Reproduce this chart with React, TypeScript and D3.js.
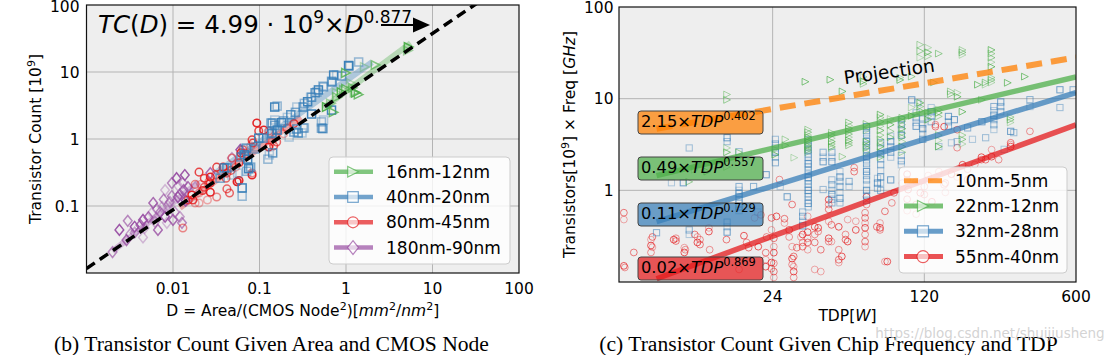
import React from 'react';
import * as d3 from 'd3';

type P = [number, number];
type Col = [number, number[]];

// ---------- Left chart (b) data: [D, transistor count (1e9)] ----------
const leftGreen: P[] = [[0.6,3.0],[0.67,3.4],[0.72,2.5],[0.78,4.9],[0.79,4.2],[0.89,5.0],[0.95,5.4],[1.0,9.7],[1.15,6.8],[1.2,5.8],[1.3,4.9],[1.26,5.0],[1.4,4.6],[1.65,11.9],[2.2,12.7],[5.3,23.6],[5.2,21],[1.0,5.6]];
const leftBlue: P[] = [[1.07,12.5],[1.4,14.1],[1.08,12.3],[0.78,9.0],[0.89,8.7],[0.72,9.0],[0.68,7.3],[0.69,7.1],[0.54,6.2],[0.55,6.0],[0.48,5.4],[0.46,5.0],[0.44,4.9],[0.39,4.2],[0.40,4.2],[0.36,3.6],[0.33,3.4],[0.32,3.0],[0.27,3.0],[0.26,2.5],[0.15,3.0],[0.16,3.1],[0.23,2.3],[0.21,2.1],[0.19,1.86],[0.18,1.75],[0.33,1.46],[0.27,1.41],[0.31,1.23],[0.25,1.27],[0.40,2.36],[0.52,1.8],[0.54,1.43],[0.55,1.92],[0.52,1.45],[0.68,2.7],[0.32,1.46],[0.28,1.23],[0.22,1.07],[0.15,1.6],[0.16,1.36],[0.14,1.2],[0.14,1.73],[0.13,1.19],[0.11,1.03],[0.098,1.03],[0.091,0.76],[0.07,0.73],[0.066,0.69],[0.061,0.54],[0.073,0.5],[0.125,0.5],[0.142,0.62],[0.13,0.58],[0.079,0.38],[0.075,0.36],[0.071,0.33],[0.042,0.37],[0.048,0.29],[0.035,0.26],[0.063,0.186],[0.063,0.14],[0.039,0.37],[0.056,0.31],[0.088,0.71],[0.067,0.58],[0.135,1.73],[0.139,1.23],[0.15,1.92]];
const leftRed: P[] = [[0.112,1.36],[0.128,1.32],[0.098,1.32],[0.139,0.91],[0.146,0.79],[0.128,0.76],[0.154,1.07],[0.082,0.97],[0.079,0.79],[0.064,0.69],[0.061,0.62],[0.048,0.52],[0.058,0.44],[0.053,0.38],[0.047,0.34],[0.082,0.29],[0.056,0.23],[0.032,0.38],[0.036,0.31],[0.041,0.26],[0.027,0.27],[0.026,0.23],[0.02,0.32],[0.021,0.21],[0.023,0.19],[0.027,0.16],[0.032,0.136],[0.017,0.123],[0.02,0.111],[0.042,0.18],[0.093,1.73],[0.018,0.21],[0.022,0.17],[0.018,0.111],[0.015,0.123],[0.0165,0.146],[0.013,0.047],[0.027,0.22],[0.025,0.123],[0.042,0.31],[0.055,0.23],[0.082,0.31],[0.084,0.87],[0.131,0.81],[0.158,0.9],[0.038,0.38],[0.031,0.29],[0.023,0.26],[0.02,0.156],[0.045,0.156],[0.058,0.24],[0.207,1.46],[0.25,1.7],[0.19,1.2],[0.07,0.6]];
const leftPurple: P[] = [[0.0137,0.29],[0.013,0.22],[0.0133,0.173],[0.0081,0.173],[0.0097,0.141],[0.0114,0.136],[0.0092,0.115],[0.0059,0.111],[0.0057,0.079],[0.0071,0.081],[0.0081,0.069],[0.0105,0.081],[0.01,0.062],[0.0085,0.056],[0.0127,0.056],[0.0045,0.062],[0.0062,0.058],[0.0067,0.044],[0.0047,0.047],[0.003,0.06],[0.0024,0.044],[0.0036,0.04],[0.0029,0.031],[0.0045,0.034],[0.002,0.0205],[0.0036,0.049],[0.012,0.069],[0.0149,0.192],[0.0075,0.097],[0.0097,0.22],[0.011,0.26],[0.0065,0.09],[0.0052,0.068],[0.0088,0.1],[0.012,0.15],[0.014,0.12],[0.0032,0.038],[0.0042,0.052],[0.0115,0.2],[0.0078,0.125],[0.06,0.69],[0.048,0.52],[0.027,0.31],[0.018,0.19]];
const leftGreenFit: P[] = [[0.55,2.9],[5.6,27]];
const leftBlueFit: P[] = [[0.03,0.3],[2,14]];
const leftRedFit: P[] = [[0.012,0.094],[0.3,2.13]];
const leftPurpleFit: P[] = [[0.002,0.021],[0.02,0.23]];
const leftLaw = [4.99, 0.877];
const leftXTicks = [0.01, 0.1, 1, 10, 100];
const leftXTickLabels = ['0.01', '0.1', '1', '10', '100'];
const leftYTicks = [0.1, 1, 10, 100];
const leftYTickLabels = ['0.1', '1', '10', '100'];
const leftLegend = ['16nm-12nm', '40nm-20nm', '80nm-45nm', '180nm-90nm'];

// ---------- Right chart (c) data: [TDP, values (transistors x freq)] ----------
const rightGreen: Col[] = [[9.9,[1.24]],[10.5,[1.68]],[12,[1.6]],[14.8,[11.1,9.7,2.9,2.6,1.8]],[16.8,[2.6]],[24.7,[2.8,2.45]],[27.5,[3.6,3.1]],[30.2,[2.27]],[34,[15.3]],[35,[4.6,4.3,4.0,3.8,3.6,3.4,3.2,3.05,2.9,2.75,2.6]],[44.3,[16.1]],[45,[4.25,4.0,3.7,3.4,3.2,3.0,2.9]],[50.4,[12.0,2.33]],[54,[5.5,5.1,4.7,4.4,4.1,3.8,3.5,3.3,3.1]],[63,[17.3,15.5,14.5]],[65,[5.3,4.5,3.4,3.1,2.9,2.6]],[75.5,[6.7,6.2,5.6,5.0,4.5,4.0,3.6,3.3,3.0,2.6,2.3]],[84,[6.0,5.2,4.4,3.8]],[93,[17,16]],[95,[6.2,5.7,5.2,4.7,4.2,3.8,3.4,3.0,2.6]],[105,[17.4,8.0,6.5]],[115,[38.8,33,28,9.0,8.2,7.4]],[125,[36,32,29,7.0,6.4,5.9]],[133,[15]],[140,[31,7.6,7.0,6.4,4.0,3.5,3.0]],[159,[12,11.2]],[171,[11.6,10.5]],[180,[34,32,30,7.2,4.0,3.6,3.2]],[212,[14.2]],[221,[9.7]],[230,[15,14.2]],[245,[34,31,28,25,22.3,17,16,15]],[291,[14.9]],[300,[6.3,5.9,5.5]],[349,[17.4]]];
const rightBlue: Col[] = [[7,[0.345]],[8.2,[1.21]],[9.3,[1.21]],[9.9,[2.9,0.37,0.33]],[14.8,[3.75,3.4,0.45,0.4,0.35]],[16.8,[2.64,1.1,1.0,0.92,0.85,0.78,0.72,0.66,0.6]],[19.6,[1.1]],[20.5,[0.58]],[22.4,[1.48]],[24.7,[3.6,3.2,2.9,2.6,2.3,2.0]],[26,[1.1]],[28,[0.85]],[33,[0.58,0.52,0.46,0.41]],[35,[3.57,3.3,3.0,2.75,2.5,2.3,2.1,1.95,1.8,1.65,1.5,1.38,1.27,1.17,1.08,1.0,0.92,0.85,0.78,0.72,0.66]],[41,[2.6,2.3,2.05,1.02]],[45,[2.6,2.3,2.05,1.3,1.15,1.0,0.9,0.8,0.73]],[49,[1.6,1.4,1.25,1.1,0.95,0.82,0.73]],[54,[1.25,1.1]],[65,[4.96,4.5,4.1,3.7,3.4,3.1,2.8,2.6,2.35,2.15,1.95,1.75,1.6,1.45,1.3,1.15,1.0,0.88,0.78]],[73,[1.35,1.2,1.05]],[75.5,[3.3,2.9,2.5,2.2,1.9,1.65,1.4,1.2,1.0]],[84,[3.9,3.4,3.0,2.6,2.3,1.3]],[94,[5.9,5.2,4.6,4.0,2.4,2.1,1.9]],[105,[9.7]],[110,[7.0,6.2,5.5,5.0]],[112,[9.0]],[118,[6.0,5.3,4.7,4.1,3.6]],[129,[8.0,7.2,6.4,5.6]],[140,[3.0]],[155,[6.4,5.6,5.0]],[160,[3.3]],[165,[5.9]],[170,[3.4]],[190,[4.8]],[200,[3.6]],[221,[5.6]],[230,[3.75]],[251,[8.2,7.4,6.6,5.9,5.2,4.6]],[270,[9.2,8.2,7.2]],[280,[2.8]],[300,[4.4]],[310,[4.26]],[368,[9.75,8.2]],[506,[12.5,8.0]],[582,[12.5]]];
const rightRed: Col[] = [[4.95,[0.57,0.48,0.15]],[5.0,[0.144]],[5.5,[0.21]],[6.6,[0.29,0.25,0.21]],[6.7,[0.31,0.24]],[8.4,[0.29]],[8.6,[0.30,0.28]],[9.4,[0.237,0.21]],[9.5,[0.225]],[10.5,[0.33]],[10.8,[0.31,0.27]],[11.1,[0.29,0.256]],[12.2,[0.39,0.355]],[12.3,[0.225]],[14.7,[0.29]],[16.8,[0.137]],[17.7,[0.32]],[18.2,[0.27]],[18.6,[0.237]],[19.8,[0.5]],[20.6,[0.243]],[21.2,[0.54]],[22.3,[0.209,0.175,0.147]],[22.5,[0.31]],[23.7,[0.5,0.37,0.163,0.14]],[24.3,[0.3,0.243,0.209,0.16,0.13,0.112]],[25,[0.52]],[25.8,[1.31]],[27.2,[0.49,0.44]],[28.6,[0.37,0.31]],[29.5,[0.7,0.243,0.18,0.155]],[30,[0.19,0.147,0.13,0.112]],[31,[0.237]],[32.4,[0.31]],[33,[0.33,0.27,0.243]],[34.8,[0.52,0.35,0.3,0.27,0.225]],[37.5,[0.4,0.33,0.27,0.137]],[38.9,[0.39,0.355]],[40,[0.225,0.13]],[43.5,[0.79,0.7,0.62,0.46,0.3,0.276]],[44.8,[0.42,0.276]],[48.4,[0.4,0.225,0.175,0.163]],[50,[0.19]],[52,[0.33,0.29]],[53.2,[0.48,0.276]],[57,[1.77,1.6]],[58,[0.46,0.37]],[64,[0.57,0.5,0.44,0.39,0.33,0.276,0.243]],[65,[0.85,0.7]],[72.5,[0.4]],[75,[0.44,0.39,0.37]],[79,[0.59,0.167]],[81,[0.167]],[85,[0.73]],[87,[0.94]],[95,[1.2]],[100,[1.5,1.3,0.8,0.6]],[101,[1.02]],[110,[1.25,0.7,0.55]],[115,[0.94]],[120,[1.1,0.9]],[125,[1.45]],[130,[0.75]],[135,[5.2,4.95]],[140,[1.6]],[148,[4.95,1.15]],[150,[1.2,0.95]],[160,[1.5]],[170,[2.92,4.59,1.4]],[180,[1.9]],[190,[1.7,1.31]],[205,[1.91]],[220,[2.3,2.16]],[230,[2.16]],[245,[2.78,2.33]],[264,[2.16]],[300,[3.3,3.15,3.0]],[368,[4.4]]];
const rightCoef = [2.15, 0.49, 0.11, 0.02];
const rightExp = [0.402, 0.557, 0.729, 0.869];
const rightCoefLabels = ['2.15', '0.49', '0.11', '0.02'];
const rightExpLabels = ['0.402', '0.557', '0.729', '0.869'];
const rightFitRange = [7, 600];
const rightXTicks = [24, 120, 600];
const rightXTickLabels = ['24', '120', '600'];
const rightYTicks = [1, 10, 100];
const rightYTickLabels = ['1', '10', '100'];
const rightLegend = ['10nm-5nm', '22nm-12nm', '32nm-28nm', '55nm-40nm'];

// ---------- styling ----------
const FONT = "'DejaVu Sans', Verdana, sans-serif";
const SERIF = "'Liberation Serif', 'Times New Roman', serif";
const BG = '#eeeeee';
const GRID = '#b4b4b4';
const C_GREEN = '#4daf4a';
const C_BLUE = '#377eb8';
const C_RED = '#e41a1c';
const C_PURPLE = '#984ea3';
const C_ORANGE = '#ff7f00';

type Shape = 'tri' | 'sq' | 'ci' | 'di';

function Marker({ shape, x, y, h, color, op, sw, fill = 'none', fillOp = 1 }:
  { shape: Shape; x: number; y: number; h: number; color: string; op: number; sw: number; fill?: string; fillOp?: number }) {
  const common = { stroke: color, strokeOpacity: op, strokeWidth: sw, fill, fillOpacity: fillOp } as any;
  if (shape === 'sq') return <rect x={x - h} y={y - h} width={2 * h} height={2 * h} {...common} />;
  if (shape === 'ci') return <circle cx={x} cy={y} r={h} {...common} />;
  if (shape === 'di') return <polygon points={`${x},${y - h * 1.25} ${x + h},${y} ${x},${y + h * 1.25} ${x - h},${y}`} {...common} />;
  return <polygon points={`${x + h},${y} ${x - h},${y - h} ${x - h},${y + h}`} {...common} />;
}

const opL = [0.95, 0.5, 0.8, 0.35, 0.65];
const opR = [0.55, 0.35, 0.7, 0.45];

function flatten(cols: Col[]): P[] {
  const out: P[] = [];
  cols.forEach(([t, vs]) => vs.forEach((v) => out.push([t, v])));
  return out;
}

function LeftChart() {
  const L = 86.5, R = 519, T = 5, B = 273;
  const x = d3.scaleLog().domain([0.001, 100]).range([L, R]);
  const y = d3.scaleLog().domain([0.01, 100]).range([B, T]);
  const line = d3.line<P>().x((d) => x(d[0])).y((d) => y(d[1]));
  const lawPts: P[] = [0.001, 100].map((d) => [d, leftLaw[0] * Math.pow(d, leftLaw[1])] as P);
  const series: { pts: P[]; fit: P[]; color: string; shape: Shape; h: number }[] = [
    { pts: leftPurple, fit: leftPurpleFit, color: C_PURPLE, shape: 'di', h: 4.3 },
    { pts: leftRed, fit: leftRedFit, color: C_RED, shape: 'ci', h: 3.8 },
    { pts: leftBlue, fit: leftBlueFit, color: C_BLUE, shape: 'sq', h: 4.0 },
    { pts: leftGreen, fit: leftGreenFit, color: C_GREEN, shape: 'tri', h: 4.3 },
  ];
  const legendSeries = [series[3], series[2], series[1], series[0]];
  const lgX = 329, lgY = 157, lgW = 181, lgH = 107;
  return (
    <g>
      <defs>
        <clipPath id="clipL"><rect x={L} y={T} width={R - L} height={B - T} /></clipPath>
      </defs>
      <rect x={L} y={T} width={R - L} height={B - T} fill={BG} />
      {leftXTicks.filter((t) => t < 100).map((t) => (
        <line key={'gx' + t} x1={x(t)} x2={x(t)} y1={T} y2={B} stroke={GRID} strokeWidth={1} />
      ))}
      {leftYTicks.filter((t) => t < 100).map((t) => (
        <line key={'gy' + t} x1={L} x2={R} y1={y(t)} y2={y(t)} stroke={GRID} strokeWidth={1} />
      ))}
      <g clipPath="url(#clipL)">
        {series.map((s, i) => (
          <path key={'fit' + i} d={line(s.fit) || ''} stroke={s.color} strokeOpacity={0.35} strokeWidth={6} fill="none" />
        ))}
        {series.map((s, i) => (
          <g key={'pts' + i}>
            {s.pts.map((p, j) => (
              <Marker key={j} shape={s.shape} x={x(p[0])} y={y(p[1])} h={s.h} color={s.color} op={opL[j % opL.length]} sw={1.5} />
            ))}
          </g>
        ))}
        <path d={line(lawPts) || ''} stroke="#000" strokeWidth={3.5} strokeDasharray="10,6" fill="none" />
      </g>
      <rect x={L} y={T} width={R - L} height={B - T} fill="none" stroke="#111" strokeWidth={1.2} />
      {/* formula and arrow */}
      <text x={98} y={33} fontSize={24.5} fontFamily={FONT} fill="#000">
        <tspan fontStyle="italic">TC</tspan>
        <tspan>(</tspan>
        <tspan fontStyle="italic">D</tspan>
        <tspan>{') = 4.99 · 10'}</tspan>
        <tspan fontSize={17} dy={-10}>9</tspan>
        <tspan dy={10}>×</tspan>
        <tspan fontStyle="italic">D</tspan>
        <tspan fontSize={17} dy={-10}>0.877</tspan>
      </text>
      <line x1={381} y1={25} x2={416} y2={25} stroke="#000" strokeWidth={2} />
      <polygon points="430,25 413,17.5 413,32.5" fill="#000" />
      {/* ticks */}
      {leftXTicks.map((t, i) => (
        <text key={'xt' + t} x={x(t)} y={B + 20.5} fontSize={15.5} fontFamily={FONT} textAnchor="middle">{leftXTickLabels[i]}</text>
      ))}
      {leftYTicks.map((t, i) => (
        <text key={'yt' + t} x={L - 7} y={Math.max(y(t) + 5.5, 12)} fontSize={15.5} fontFamily={FONT} textAnchor="end">{leftYTickLabels[i]}</text>
      ))}
      <text x={(L + R) / 2} y={315.5} fontSize={15.5} fontFamily={FONT} textAnchor="middle">
        <tspan>D = Area/(CMOS Node</tspan>
        <tspan fontSize={11} dy={-6}>2</tspan>
        <tspan dy={6}>)[</tspan>
        <tspan fontStyle="italic">mm</tspan>
        <tspan fontSize={11} dy={-6}>2</tspan>
        <tspan dy={6}>/</tspan>
        <tspan fontStyle="italic">nm</tspan>
        <tspan fontSize={11} dy={-6}>2</tspan>
        <tspan dy={6}>]</tspan>
      </text>
      <text transform={`translate(40.5,${(T + B) / 2}) rotate(-90)`} fontSize={15.5} fontFamily={FONT} textAnchor="middle">
        <tspan>Transistor Count [10</tspan>
        <tspan fontSize={11} dy={-6}>9</tspan>
        <tspan dy={6}>]</tspan>
      </text>
      {/* legend */}
      <rect x={lgX} y={lgY} width={lgW} height={lgH} rx={4} fill="#fff" fillOpacity={0.8} stroke="#cccccc" strokeWidth={1} />
      {legendSeries.map((s, i) => {
        const cy = lgY + 14.7 + i * 25.3;
        return (
          <g key={'lg' + i}>
            <line x1={lgX + 5} x2={lgX + 44} y1={cy} y2={cy} stroke={s.color} strokeOpacity={0.7} strokeWidth={4.5} />
            <Marker shape={s.shape} x={lgX + 24} y={cy} h={s.shape === 'ci' ? 5.5 : s.shape === 'di' ? 5.5 : 5.3} color={s.color} op={0.7} sw={1.2} fill="#fff" fillOp={0.65} />
            <text x={lgX + 57} y={cy + 6} fontSize={17} fontFamily={FONT}>{leftLegend[i]}</text>
          </g>
        );
      })}
    </g>
  );
}

function RightChart() {
  const L = 619, R = 1076, T = 7, B = 282;
  const x = d3.scaleLog().domain([4.7, 600]).range([L, R]);
  const y = d3.scaleLog().domain([0.1, 100]).range([B, T]);
  const line = d3.line<P>().x((d) => x(d[0])).y((d) => y(d[1]));
  const colors = [C_ORANGE, C_GREEN, C_BLUE, C_RED];
  const fits = rightCoef.map((a, i) => rightFitRange.map((t) => [t, a * Math.pow(t, rightExp[i])] as P));
  const pts: { data: P[]; color: string; shape: Shape; h: number }[] = [
    { data: flatten(rightRed), color: C_RED, shape: 'ci', h: 3.4 },
    { data: flatten(rightBlue), color: C_BLUE, shape: 'sq', h: 3.1 },
    { data: flatten(rightGreen), color: C_GREEN, shape: 'tri', h: 3.4 },
  ];
  const boxes = [{ y0: 111 }, { y0: 157 }, { y0: 203 }, { y0: 257 }];
  const lgX = 899, lgY = 167, lgW = 168, lgH = 106;
  const legendShapes: (Shape | null)[] = [null, 'tri', 'sq', 'ci'];
  return (
    <g>
      <defs>
        <clipPath id="clipR"><rect x={L} y={T} width={R - L} height={B - T} /></clipPath>
      </defs>
      <rect x={L} y={T} width={R - L} height={B - T} fill={BG} />
      {rightXTicks.filter((t) => t < 600).map((t) => (
        <line key={'gx' + t} x1={x(t)} x2={x(t)} y1={T} y2={B} stroke={GRID} strokeWidth={1} />
      ))}
      {rightYTicks.filter((t) => t < 100).map((t) => (
        <line key={'gy' + t} x1={L} x2={R} y1={y(t)} y2={y(t)} stroke={GRID} strokeWidth={1} />
      ))}
      <g clipPath="url(#clipR)">
        {pts.map((s, i) => (
          <g key={'p' + i}>
            {s.data.map((p, j) => (
              <Marker key={j} shape={s.shape} x={x(p[0])} y={y(p[1])} h={s.h} color={s.color} op={opR[j % opR.length]} sw={1} />
            ))}
          </g>
        ))}
        {fits.map((f, i) => (
          <path key={'f' + i} d={line(f) || ''} stroke={colors[i]} strokeOpacity={0.75} strokeWidth={i === 0 ? 6 : 5.5}
            strokeDasharray={i === 0 ? '16,9' : undefined} fill="none" />
        ))}
      </g>
      <rect x={L} y={T} width={R - L} height={B - T} fill="none" stroke="#111" strokeWidth={1.2} />
      {/* formula boxes */}
      {boxes.map((b, i) => (
        <g key={'bx' + i}>
          <rect x={638} y={b.y0} width={125} height={23} rx={3} fill={colors[i]} fillOpacity={0.72} stroke="#444" strokeWidth={1} />
          <text x={641} y={b.y0 + 16} fontSize={16.3} fontFamily={FONT}>
            <tspan>{rightCoefLabels[i] + '×'}</tspan>
            <tspan fontStyle="italic">TDP</tspan>
            <tspan fontSize={11.4} dy={-7}>{rightExpLabels[i]}</tspan>
          </text>
        </g>
      ))}
      <text x={890} y={78} fontSize={18.5} fontFamily={FONT} textAnchor="middle" transform="rotate(-8,890,78)">Projection</text>
      {/* ticks */}
      {rightXTicks.map((t, i) => (
        <text key={'xt' + t} x={x(t)} y={B + 19.5} fontSize={15.5} fontFamily={FONT} textAnchor="middle">{rightXTickLabels[i]}</text>
      ))}
      {rightYTicks.map((t, i) => (
        <text key={'yt' + t} x={L - 5.5} y={y(t) + 5.5} fontSize={15.5} fontFamily={FONT} textAnchor="end">{rightYTickLabels[i]}</text>
      ))}
      <text x={(L + R) / 2} y={321} fontSize={15.5} fontFamily={FONT} textAnchor="middle">
        <tspan>TDP[</tspan>
        <tspan fontStyle="italic">W</tspan>
        <tspan>]</tspan>
      </text>
      <text transform={`translate(575,${(T + B) / 2}) rotate(-90)`} fontSize={15.5} fontFamily={FONT} textAnchor="middle">
        <tspan>Transistors[10</tspan>
        <tspan fontSize={11} dy={-6}>9</tspan>
        <tspan dy={6}>] × Freq [</tspan>
        <tspan fontStyle="italic">GHz</tspan>
        <tspan>]</tspan>
      </text>
      {/* legend */}
      <rect x={lgX} y={lgY} width={lgW} height={lgH} rx={4} fill="#fff" fillOpacity={0.8} stroke="#cccccc" strokeWidth={1} />
      {rightLegend.map((name, i) => {
        const cy = lgY + 13.7 + i * 25.3;
        const shape = legendShapes[i];
        return (
          <g key={'rl' + i}>
            {shape === null ? (
              <line x1={lgX + 5} x2={lgX + 44} y1={cy} y2={cy} stroke={colors[i]} strokeOpacity={0.75} strokeWidth={5} strokeDasharray="14,10" />
            ) : (
              <line x1={lgX + 5} x2={lgX + 44} y1={cy} y2={cy} stroke={colors[i]} strokeOpacity={0.75} strokeWidth={5} />
            )}
            {shape && <Marker shape={shape} x={lgX + 24} y={cy} h={shape === 'ci' ? 6 : 5.5} color={colors[i]} op={0.7} sw={1.2} fill="#fff" fillOp={0.65} />}
            <text x={lgX + 56} y={cy + 6} fontSize={17} fontFamily={FONT}>{name}</text>
          </g>
        );
      })}
    </g>
  );
}

export default function App() {
  return (
    <svg width={1119} height={355} viewBox="0 0 1119 355"
      style={{ position: 'absolute', left: 0, top: 0, display: 'block', background: '#fff' }}>
      <rect x={0} y={0} width={1119} height={355} fill="#fff" />
      <LeftChart />
      <RightChart />
      <text x={271.5} y={351} fontSize={21.6} fontFamily={SERIF} textAnchor="middle">(b) Transistor Count Given Area and CMOS Node</text>
      <text x={828.5} y={351} fontSize={21.6} fontFamily={SERIF} textAnchor="middle">(c) Transistor Count Given Chip Frequency and TDP</text>
      <text x={990} y={338} fontSize={13.5} fontFamily={FONT} textAnchor="middle" fill="#c8c8c8" fillOpacity={0.8}>https://blog.csdn.net/shuijiusheng</text>
    </svg>
  );
}
